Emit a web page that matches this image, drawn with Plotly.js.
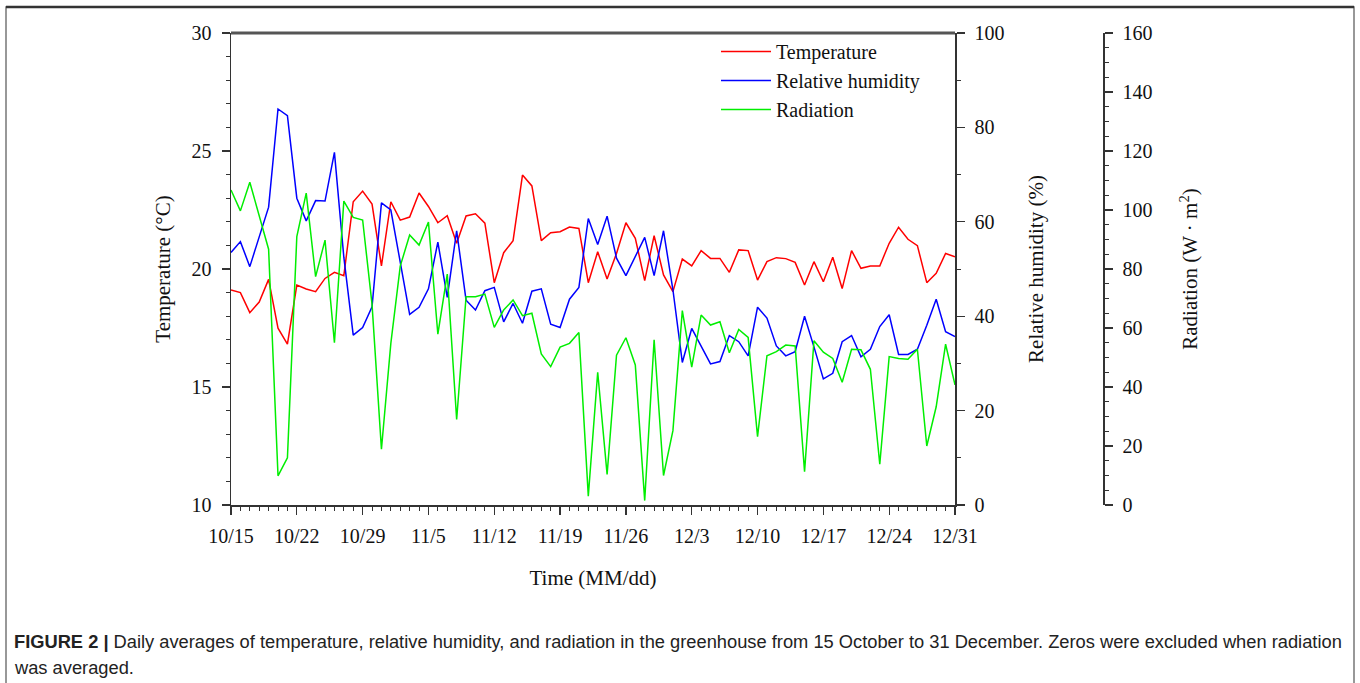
<!DOCTYPE html>
<html>
<head>
<meta charset="utf-8">
<script src="https://cdn.plot.ly/plotly-3.0.1.min.js"></script>
<style>html,body{margin:0;padding:0;background:#fff;}#chart{width:1360px;height:683px;}</style>
</head>
<body>
<div id="chart"></div>
<script>
// Daily values, 15 Oct to 31 Dec (78 days)
var startDate = '2019-10-15';
var endDate = '2019-12-31';
var temperature = [19.11,19.0,18.15,18.6,19.56,17.49,16.82,19.32,19.15,19.04,
  19.6,19.86,19.72,22.85,23.3,22.75,20.13,22.85,22.07,22.2,
  23.22,22.65,21.96,22.26,21.09,22.25,22.34,21.94,19.42,20.69,
  21.2,23.98,23.52,21.2,21.54,21.58,21.78,21.72,19.42,20.73,
  19.58,20.66,21.96,21.3,19.51,21.41,19.75,19.04,20.42,20.13,
  20.78,20.45,20.45,19.86,20.81,20.78,19.53,20.31,20.48,20.44,
  20.28,19.32,20.31,19.46,20.5,19.17,20.78,20.03,20.13,20.13,
  21.09,21.77,21.26,20.99,19.42,19.82,20.66,20.52];
var humidity = [53.5,55.8,50.5,56.9,63.1,83.9,82.5,65.0,60.2,64.5,
  64.4,74.7,52.5,36.0,37.6,42.0,64.0,62.5,51.7,40.4,
  41.9,45.8,55.7,44.0,58.1,43.4,41.3,45.4,46.1,38.8,
  42.7,38.5,45.3,45.8,38.3,37.6,43.6,46.1,60.7,55.2,
  61.2,52.3,48.6,52.6,56.7,48.6,58.1,45.6,30.2,37.4,
  33.7,29.9,30.4,35.9,34.6,31.6,41.9,39.6,33.7,31.6,
  32.5,40.0,33.5,26.7,27.9,34.6,35.9,31.4,33.0,37.8,
  40.3,31.9,31.9,33.0,38.1,43.6,36.7,35.7];
var radiation = [106.8,99.7,109.4,98,86.7,9.9,16,91,105.7,77.4,
  89.8,55,103,97.5,96.6,68,18.9,54.8,81,91.5,
  88.1,95.9,57.9,78.3,29,70.6,70.6,71.5,60.2,66.1,
  69.5,64.2,65,51.2,46.9,53.5,54.8,58.5,3,45,
  10.4,50.8,56.7,47.5,1.5,56,10,25.2,65.9,46.7,
  64.4,61,62.1,51.6,59.5,56.8,23.2,50.6,52,54.2,
  53.9,11.3,55.7,51.8,49.7,41.6,52.8,52.6,46,13.8,
  50.3,49.7,49.4,52.8,20,33.3,54.5,40.7];
var seriesNames = ['Temperature','Relative humidity','Radiation'];
var seriesColors = ['#ff0000','#0000ff','#00ee00'];

var W = 1360, H = 683;
var plotL = 231, plotR = 955, plotT = 33, plotB = 505;
function px(x){ return x / W; }
function py(y){ return (plotB - y) / (plotB - plotT); }

var serif = 'Liberation Serif, Times New Roman, serif';
var axisColor = '#333';
var day = 86400000;

var traces = [
  {x0: startDate, dx: day, y: temperature, name: seriesNames[0], type: 'scatter', mode: 'lines',
   line: {color: seriesColors[0], width: 1.5}, yaxis: 'y'},
  {x0: startDate, dx: day, y: humidity, name: seriesNames[1], type: 'scatter', mode: 'lines',
   line: {color: seriesColors[1], width: 1.5}, yaxis: 'y2'},
  {x0: startDate, dx: day, y: radiation, name: seriesNames[2], type: 'scatter', mode: 'lines',
   line: {color: seriesColors[2], width: 1.5}, yaxis: 'y3'}
];

function axisBase(){
  return {
    showgrid: false, zeroline: false, showline: true, linecolor: axisColor, linewidth: 1.5,
    ticks: 'outside', ticklen: 8, tickwidth: 1.2, tickcolor: axisColor,
    tickfont: {family: serif, size: 20, color: '#111'},
    title: {font: {family: serif, size: 21, color: '#111'}}
  };
}

var xaxis = axisBase();
Object.assign(xaxis, {
  type: 'date', range: [startDate, endDate], domain: [px(plotL), px(plotR)],
  tick0: startDate, dtick: 7 * day, tickformat: '%-m/%-d', ticklabelstandoff: 4,
  minor: {dtick: day, ticks: 'outside', ticklen: 4, tickcolor: axisColor, tickwidth: 1, showgrid: false},
  anchor: 'y'
});
xaxis.title.text = 'Time (MM/dd)';
xaxis.title.standoff = 25;

var yaxis = axisBase();
Object.assign(yaxis, {
  range: [10, 30], dtick: 5, tick0: 0, ticklabelstandoff: 6,
  minor: {dtick: 1, ticks: 'outside', ticklen: 4, tickcolor: axisColor, tickwidth: 1, showgrid: false}
});
yaxis.title.text = 'Temperature (°C)';
yaxis.title.standoff = 15;

var yaxis2 = axisBase();
Object.assign(yaxis2, {
  range: [0, 100], dtick: 20, tick0: 0, overlaying: 'y', side: 'right', anchor: 'x', ticklabelstandoff: 6,
  minor: {dtick: 10, ticks: 'outside', ticklen: 4, tickcolor: axisColor, tickwidth: 1, showgrid: false}
});
yaxis2.title.text = 'Relative humidity (%)';
yaxis2.title.standoff = 25;

var yaxis3 = axisBase();
Object.assign(yaxis3, {
  range: [0, 160], dtick: 20, tick0: 0, overlaying: 'y', side: 'right', anchor: 'free',
  position: px(1103), ticklabelstandoff: 6,
  minor: {dtick: 5, ticks: 'outside', ticklen: 4, tickcolor: axisColor, tickwidth: 1, showgrid: false}
});
yaxis3.title.text = 'Radiation (W · m<sup>2</sup>)';
yaxis3.title.standoff = 31;

var layout = {
  width: W, height: H, autosize: false,
  margin: {l: 0, r: 0, t: plotT, b: H - plotB, pad: 0},
  paper_bgcolor: '#fff', plot_bgcolor: '#fff',
  showlegend: true,
  legend: {x: px(716), y: py(32), xanchor: 'left', yanchor: 'top', bgcolor: 'rgba(0,0,0,0)',
    font: {family: serif, size: 20, color: '#111'}, tracegroupgap: 0, itemwidth: 50},
  xaxis: xaxis, yaxis: yaxis, yaxis2: yaxis2, yaxis3: yaxis3,
  shapes: [
    {type: 'rect', xref: 'paper', yref: 'paper', x0: px(6), x1: px(1354), y0: py(700), y1: py(7),
     line: {color: '#777', width: 1.5}, fillcolor: 'rgba(0,0,0,0)', layer: 'below'},
    {type: 'line', xref: 'paper', yref: 'paper', x0: px(6), x1: px(1354), y0: py(7), y1: py(7),
     line: {color: '#333', width: 2.5}},
    {type: 'line', xref: 'paper', yref: 'paper', x0: px(plotL), x1: px(plotR), y0: 1, y1: 1,
     line: {color: '#555', width: 3}}
  ],
  annotations: [
    {xref: 'paper', yref: 'paper', x: px(12), y: py(641), xanchor: 'left', yanchor: 'middle',
     showarrow: false, align: 'left',
     text: '<b>FIGURE 2 |</b> Daily averages of temperature, relative humidity, and radiation in the greenhouse from 15 October to 31 December. Zeros were excluded when radiation',
     font: {family: 'Liberation Sans, Arial, sans-serif', size: 18.3, color: '#222'}},
    {xref: 'paper', yref: 'paper', x: px(12), y: py(667), xanchor: 'left', yanchor: 'middle',
     showarrow: false, align: 'left', text: 'was averaged.',
     font: {family: 'Liberation Sans, Arial, sans-serif', size: 18.3, color: '#222'}}
  ]
};

Plotly.newPlot('chart', traces, layout, {displayModeBar: false, staticPlot: true});
</script>
</body>
</html>
